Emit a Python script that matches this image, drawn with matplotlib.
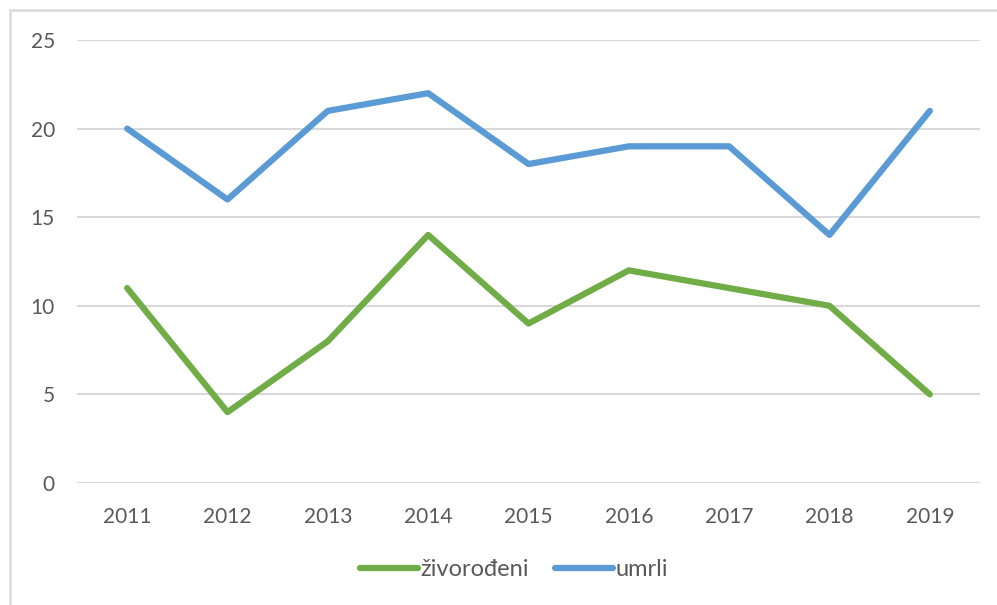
import matplotlib
matplotlib.use("Agg")
import matplotlib.pyplot as plt
from matplotlib.patches import Rectangle

years = ["2011", "2012", "2013", "2014", "2015", "2016", "2017", "2018", "2019"]
zivorodeni = [11, 4, 8, 14, 9, 12, 11, 10, 5]
umrli = [20, 16, 21, 22, 18, 19, 19, 14, 21]

W, H = 997, 605
plt.rcParams["font.family"] = ["Lato", "DejaVu Sans"]

fig = plt.figure(figsize=(W / 100, H / 100), dpi=100)
ax = fig.add_axes([77 / W, (H - 483) / H, (980 - 77) / W, (483 - 40) / H])

# outer chart border (only left/top visible in the crop)
fig.patches.append(Rectangle((10 / W, -0.1), 1.2, (H - 10) / H + 0.1,
                             transform=fig.transFigure, fill=False,
                             edgecolor="#d9d9d9", linewidth=1.8))

x = list(range(len(years)))
ax.plot(x, zivorodeni, color="#70AD47", lw=4.5, solid_capstyle="round",
        solid_joinstyle="round", label="živorođeni")
ax.plot(x, umrli, color="#5B9BD5", lw=4.5, solid_capstyle="round",
        solid_joinstyle="round", label="umrli")

ax.set_xlim(-0.5, len(years) - 0.5)
ax.set_ylim(0, 25)
ax.set_yticks([0, 5, 10, 15, 20, 25])
ax.set_xticks(x)
ax.set_xticklabels(years)
ax.grid(axis="y", color="#d9d9d9", lw=1.5)
ax.set_axisbelow(True)
for s in ax.spines.values():
    s.set_visible(False)
ax.tick_params(length=0, labelsize=15, colors="#595959")
ax.tick_params(axis="y", pad=16)
ax.tick_params(axis="x", pad=17)

leg = ax.legend(loc="center", bbox_to_anchor=(514 / W, (H - 570) / H),
                bbox_transform=fig.transFigure, ncol=2, frameon=False,
                fontsize=17, handlelength=2.45, handletextpad=0.12,
                columnspacing=1.1)
for t in leg.get_texts():
    t.set_color("#595959")

fig.savefig("out.png", dpi=100, facecolor="white")
